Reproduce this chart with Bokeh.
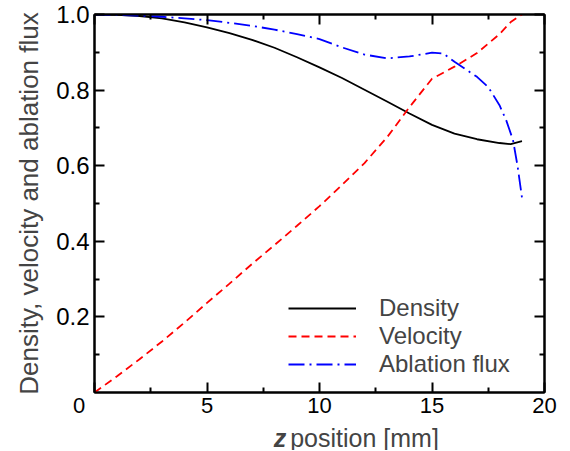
from bokeh.plotting import figure
from bokeh.layouts import column
from bokeh.models import (Range1d, LinearAxis, FixedTicker, Legend, LegendItem, Label)
from bokeh.embed import file_html
from bokeh.resources import INLINE

# ---- data ----
z_density = [0, 1, 2, 3, 4, 5, 6, 7, 8, 9, 10, 11, 12, 13, 14, 15, 16, 17, 18, 18.5, 19]
density = [1.0, 0.999, 0.996, 0.99, 0.979, 0.966, 0.951, 0.933, 0.912, 0.887, 0.860,
           0.832, 0.801, 0.770, 0.738, 0.708, 0.685, 0.670, 0.660, 0.657, 0.665]

z_velocity = [0, 1, 2, 3, 4, 5, 6, 7, 8, 9, 10, 11, 12, 13, 14, 15, 16, 17, 18, 18.5, 19]
velocity = [0.0, 0.043, 0.088, 0.135, 0.185, 0.237, 0.288, 0.340, 0.390, 0.441, 0.493,
            0.549, 0.607, 0.675, 0.755, 0.830, 0.862, 0.898, 0.948, 0.980, 1.0]

z_flux = [0, 1, 2, 3, 4, 5, 6, 7, 8, 9, 10, 11, 12, 13, 14, 15, 15.5, 16, 17, 17.5,
          18, 18.3, 18.6, 18.8, 19.0]
flux = [1.0, 0.999, 0.997, 0.994, 0.990, 0.985, 0.978, 0.970, 0.960, 0.948, 0.935,
        0.913, 0.894, 0.884, 0.889, 0.899, 0.897, 0.875, 0.835, 0.808, 0.760, 0.720,
        0.668, 0.600, 0.515]

series_labels = ["Density", "Velocity", "Ablation flux"]
x_major = [0, 5, 10, 15, 20]
x_minor = [2.5, 7.5, 12.5, 17.5]
x_tick_text = {0: "0\u00a0\u00a0\u00a0\u00a0\u00a0", 5: "5", 10: "10", 15: "15", 20: "20"}
y_major = [0.2, 0.4, 0.6, 0.8, 1.0]
y_minor = [0.1, 0.3, 0.5, 0.7, 0.9]
y_tick_text = {0.2: "0.2", 0.4: "0.4", 0.6: "0.6", 0.8: "0.8", 1.0: "1.0"}
y_title = "Density, velocity and ablation flux"
x_title_var = "z"
x_title_rest = "position [mm]"

FONT = "Liberation Sans"
W = 568
H_MAIN = 420
H_STRIP = 30

p = figure(width=W, height=H_MAIN, output_backend="svg", toolbar_location=None,
           x_range=Range1d(0, 20), y_range=Range1d(0, 1.0),
           min_border_left=94, min_border_right=24, min_border_top=14, min_border_bottom=26)
p.xgrid.visible = False
p.ygrid.visible = False
p.outline_line_color = "black"
p.outline_line_width = 2
p.background_fill_color = "white"
p.border_fill_color = "white"

r_d = p.line(z_density, density, line_color="black", line_width=1.8)
r_v = p.line(z_velocity, velocity, line_color="#ff0000", line_width=1.8, line_dash="8 5")
r_f = p.line(z_flux, flux, line_color="#0000ff", line_width=1.8, line_dash="16 5 2 5")

def style_axis(ax, ticks, minor, labels=True, fs="24px"):
    ax.ticker = FixedTicker(ticks=ticks, minor_ticks=minor)
    ax.axis_line_width = 2
    ax.axis_line_color = "black"
    ax.major_tick_in = 10
    ax.major_tick_out = 0
    ax.minor_tick_in = 5
    ax.minor_tick_out = 0
    ax.major_tick_line_width = 2
    ax.minor_tick_line_width = 2
    ax.major_label_text_font = FONT
    if labels:
        ax.major_label_text_color = "black"
        ax.major_label_text_font_size = fs
    else:
        ax.major_label_text_color = None
        ax.major_label_text_font_size = "1px"
        ax.major_label_standoff = 0

xax = p.xaxis[0]
yax = p.yaxis[0]
style_axis(xax, x_major, x_minor, fs="22px")
style_axis(yax, y_major, y_minor, fs="24px")
xax.major_label_overrides = x_tick_text
xax.major_label_standoff = 0
yax.major_label_overrides = y_tick_text
yax.major_label_standoff = 5
yax.axis_label = y_title
yax.axis_label_text_font = FONT
yax.axis_label_text_font_size = "26px"
yax.axis_label_text_font_style = "normal"
yax.axis_label_standoff = 9

top = LinearAxis()
right = LinearAxis()
style_axis(top, x_major, x_minor, labels=False)
style_axis(right, y_major, y_minor, labels=False)
p.add_layout(top, "above")
p.add_layout(right, "right")

legend = Legend(items=[LegendItem(label=series_labels[0], renderers=[r_d]),
                       LegendItem(label=series_labels[1], renderers=[r_v]),
                       LegendItem(label=series_labels[2], renderers=[r_f])],
                location=(194, 14), border_line_color=None, background_fill_alpha=0,
                padding=0, margin=0, spacing=0, glyph_width=68, glyph_height=22,
                label_height=22, label_standoff=23, label_text_font=FONT,
                label_text_font_size="24px")
p.add_layout(legend, "center")

# strip under the plot holding the x-axis title (bold-italic variable name)
s = figure(width=W, height=H_STRIP, output_backend="svg", toolbar_location=None,
           x_range=Range1d(0, W), y_range=Range1d(0, H_STRIP),
           min_border=0, min_border_left=0, min_border_right=0,
           min_border_top=0, min_border_bottom=0)
s.axis.visible = False
s.xgrid.visible = False
s.ygrid.visible = False
s.outline_line_color = None
s.add_layout(Label(x=242, y=13, text=x_title_var, text_align="right",
                   text_baseline="middle", text_font=FONT, text_font_size="25px",
                   text_font_style="bold italic"))
s.add_layout(Label(x=247, y=13, text=x_title_rest, text_align="left",
                   text_baseline="middle", text_font=FONT, text_font_size="25px"))

layout = column(p, s, spacing=0)
open("out.html", "w").write(file_html(layout, INLINE))
